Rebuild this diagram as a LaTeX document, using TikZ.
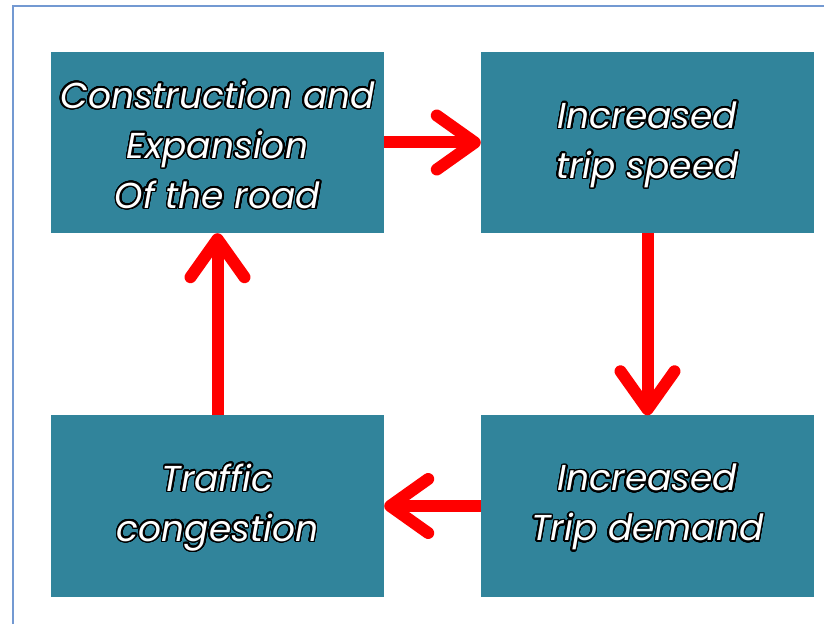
\documentclass[tikz,border=0pt]{standalone}
\usepackage{fontspec}
\setmainfont{Poppins}
\usepackage{contour}
\contourlength{1.5pt}
\contournumber{32}
\usetikzlibrary{arrows.meta}
\definecolor{boxteal}{HTML}{31849B}
\definecolor{framblue}{HTML}{7399D2}
% white letters with a black rim
\newcommand{\ol}[1]{\contour{black}{#1}}
\tikzset{
  stagebox/.style={fill=boxteal, draw=none, minimum width=333pt, minimum height=181pt,
    inner sep=0pt},
  stagetext/.style={align=center, inner sep=0pt, text=white,
    font=\fontsize{36}{50}\selectfont\itshape},
  flow/.style={draw=red, line width=12pt,
    -{Straight Barb[length=38pt, width=54pt, line cap=round, line join=round]}}
}
\begin{document}
\begin{tikzpicture}[x=1pt, y=1pt]
  \useasboundingbox (0,0) rectangle (824,624);
  % page frame
  \draw[framblue, line width=2pt] (13,0) -- (13,618) -- (824,618);
  % stages of the cycle
  \node[stagebox] (tl) at (217.5,481.5) {};
  \node[stagebox] (tr) at (647.5,481.5) {};
  \node[stagebox] (br) at (647.5,118) {};
  \node[stagebox] (bl) at (217.5,118) {};
  \node[stagetext, yshift=-3pt] (tltext) at (tl) {\ol{Construction and}\\\ol{Expansion}\\\ol{Of the road}};
  \node[stagetext, yshift=-3pt] (trtext) at (tr) {\ol{Increased}\\\ol{trip speed}};
  \node[stagetext, yshift=-2pt] (brtext) at (br) {\ol{Increased}\\\ol{Trip demand}};
  \node[stagetext, yshift=-2pt] (bltext) at (bl) {\ol{Traffic}\\\ol{congestion}};
  % feedback loop
  \draw[flow] (tl.east) -- (tr.west);
  \draw[flow] (tr.south) -- (br.north);
  \draw[flow] (br.west) -- (bl.east);
  \draw[flow] (bl.north) -- (tl.south);
\end{tikzpicture}
\end{document}
